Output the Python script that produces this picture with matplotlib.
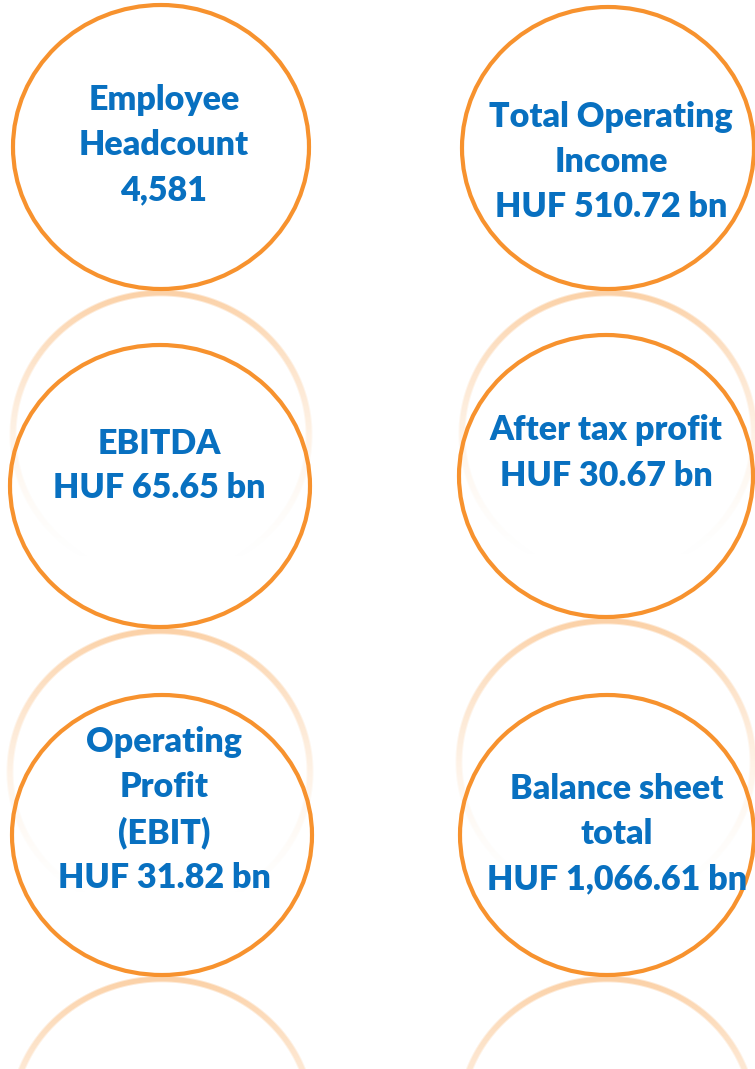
import numpy as np
import matplotlib
matplotlib.use("Agg")
import matplotlib.pyplot as plt
from matplotlib.patches import Ellipse
from matplotlib.colors import to_rgb

# ---- data ----
metric_names = ["Employee\nHeadcount", "Total Operating\nIncome", "EBITDA",
                "After tax profit", "Operating\nProfit\n(EBIT)", "Balance sheet\ntotal"]
metric_values = ["4,581", "HUF 510.72 bn", "HUF 65.65 bn",
                 "HUF 30.67 bn", "HUF 31.82 bn", "HUF 1,066.61 bn"]

# ---- layout (pixel coordinates) ----
W, H = 755, 1069
circle_cx = [161, 608, 160, 606, 162, 607]
circle_cy = [147, 148, 486, 476, 835, 835]
circle_rx = [148, 146, 150, 147, 150, 147]
circle_ry = [142, 141, 141, 141, 140, 140]
text_cx = [164, 611, 159, 606, 164, 617]
text_cy = [145, 162, 466, 453, 810, 834]

ORANGE = "#F7922E"
BLUE = "#0870C0"

fig = plt.figure(figsize=(W / 100, H / 100), dpi=100)
ax = fig.add_axes([0, 0, 1, 1])
ax.set_xlim(0, W)
ax.set_ylim(H, 0)
ax.axis("off")

# ---- reflections (mirrored rings fading downward) ----
yy, xx = np.mgrid[0:H, 0:W] + 0.5
alpha = np.zeros((H, W))
for cx, cy, rx, ry in zip(circle_cx, circle_cy, circle_rx, circle_ry):
    bottom = cy + ry
    rcy = bottom + 4 + ry
    d = np.sqrt(((xx - cx) / rx) ** 2 + ((yy - rcy) / ry) ** 2)
    r_eff = np.sqrt(rx * ry)
    dist = np.abs(d - 1) * r_eff
    ring = np.clip(1 - (dist - 2.0) / 2.0, 0, 1)
    t = np.clip((yy - (rcy - ry)) / (2 * ry), 0, 1)
    fade = 0.42 * (1 - t) ** 1.8
    alpha = np.maximum(alpha, ring * fade)
rgba = np.zeros((H, W, 4))
rgba[..., :3] = to_rgb(ORANGE)
rgba[..., 3] = alpha
ax.imshow(rgba, extent=(0, W, H, 0), interpolation="bilinear", zorder=1)

# ---- circles ----
for cx, cy, rx, ry in zip(circle_cx, circle_cy, circle_rx, circle_ry):
    ax.add_patch(Ellipse((cx, cy), 2 * rx, 2 * ry, facecolor="none",
                         edgecolor=ORANGE, linewidth=3.0, zorder=3))

# ---- labels ----
for name, val, tx, ty in zip(metric_names, metric_values, text_cx, text_cy):
    ax.text(tx, ty, name + "\n" + val, ha="center", va="center",
            color=BLUE, fontsize=24.5, fontweight="heavy", family="Lato",
            linespacing=1.5, zorder=5)

fig.savefig("out.png", dpi=100, facecolor="white")
